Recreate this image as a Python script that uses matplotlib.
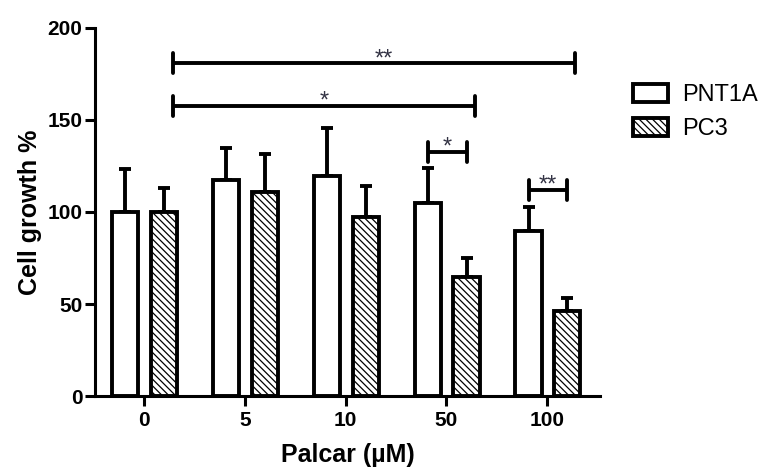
import matplotlib
matplotlib.use("Agg")
import matplotlib.pyplot as plt
import numpy as np

plt.rcParams['font.family'] = ['Liberation Sans', 'DejaVu Sans']
plt.rcParams['hatch.linewidth'] = 0.9
plt.rcParams['hatch.color'] = '#444444'

categories = ['0', '5', '10', '50', '100']
series_names = ['PNT1A', 'PC3']
pnt1a = [100, 117.4, 119.6, 104.9, 89.7]
pnt1a_err = [23.4, 17.4, 26.0, 19.1, 13.0]
pc3 = [100, 110.9, 97.3, 64.7, 46.2]
pc3_err = [13.0, 20.6, 16.8, 10.3, 7.1]
y_ticks = [0, 50, 100, 150, 200]

# significance brackets: (x_start_cat, series_start, x_end_cat, series_end, y, label)
sig_brackets = [
    (0, 1, 4, 1, 180.8, '**'),
    (0, 1, 3, 1, 157.6, '*'),
    (3, 0, 3, 1, 132.8, '*'),
    (4, 0, 4, 1, 112.0, '**'),
]
sig_label_shift = [0.09, 0.0, 0.0, 0.0]

fig = plt.figure(figsize=(7.67, 4.71), dpi=100)
ax = fig.add_axes([0.1239, 0.1592, 0.7823 - 0.1239, 0.9406 - 0.1592])

x = np.arange(len(categories))
w = 0.26
offs = [-0.185, 0.2]
lw = 2.8
err_kw = dict(elinewidth=lw, capthick=lw, capsize=4.5, ecolor='black')

b1 = ax.bar(x + offs[0], pnt1a, w, color='white', edgecolor='black', linewidth=lw,
            label=series_names[0], zorder=2)
b2 = ax.bar(x + offs[1], pc3, w, color='white', edgecolor='black', linewidth=lw,
            hatch='\\\\\\\\\\', label=series_names[1], zorder=2)
ax.errorbar(x + offs[0], pnt1a, yerr=[np.zeros(len(x)), pnt1a_err], fmt='none', zorder=1, **err_kw)
ax.errorbar(x + offs[1], pc3, yerr=[np.zeros(len(x)), pc3_err], fmt='none', zorder=1, **err_kw)

for (c0, s0, c1, s1, yv, lab), sh in zip(sig_brackets, sig_label_shift):
    xa = c0 + offs[s0] + (0.09 if c0 != c1 else 0.0)
    xb = c1 + offs[s1] + (0.08 if c0 != c1 else 0.0)
    ax.plot([xa, xb], [yv, yv], color='black', lw=lw, solid_capstyle='butt', clip_on=False)
    for xx in (xa, xb):
        ax.plot([xx, xx], [yv - 5.4, yv + 5.4], color='black', lw=lw, solid_capstyle='round', clip_on=False)
    ax.text((xa + xb) / 2 + sh, yv - 1.0, lab, ha='center', va='baseline',
            fontsize=17, color='#333344')

ax.set_xlim(-0.486, 4.524)
ax.set_ylim(0, 200)
ax.set_xticks(x)
ax.set_xticklabels(categories, fontsize=15, fontweight='bold')
ax.set_yticks(y_ticks)
ax.set_yticklabels([str(t) for t in y_ticks], fontsize=15, fontweight='bold')
for s in ['top', 'right']:
    ax.spines[s].set_visible(False)
for s in ['left', 'bottom']:
    ax.spines[s].set_linewidth(2.2)
ax.tick_params(axis='both', width=2.2, length=7, direction='out')
ax.tick_params(axis='x', pad=4)
ax.tick_params(axis='y', pad=2)
ax.set_xlabel('Palcar (µM)', fontsize=18, fontweight='bold', labelpad=9)
ax.set_ylabel('Cell growth %', fontsize=18, fontweight='bold', labelpad=4)

leg = fig.legend(handles=[b1, b2], labels=series_names, loc='upper left',
                 bbox_to_anchor=(0.825, 0.822), frameon=False, fontsize=17,
                 handlelength=1.5, handleheight=0.8, handletextpad=0.6, labelspacing=0.5,
                 borderaxespad=0, borderpad=0)

fig.savefig('out.png', dpi=100)
